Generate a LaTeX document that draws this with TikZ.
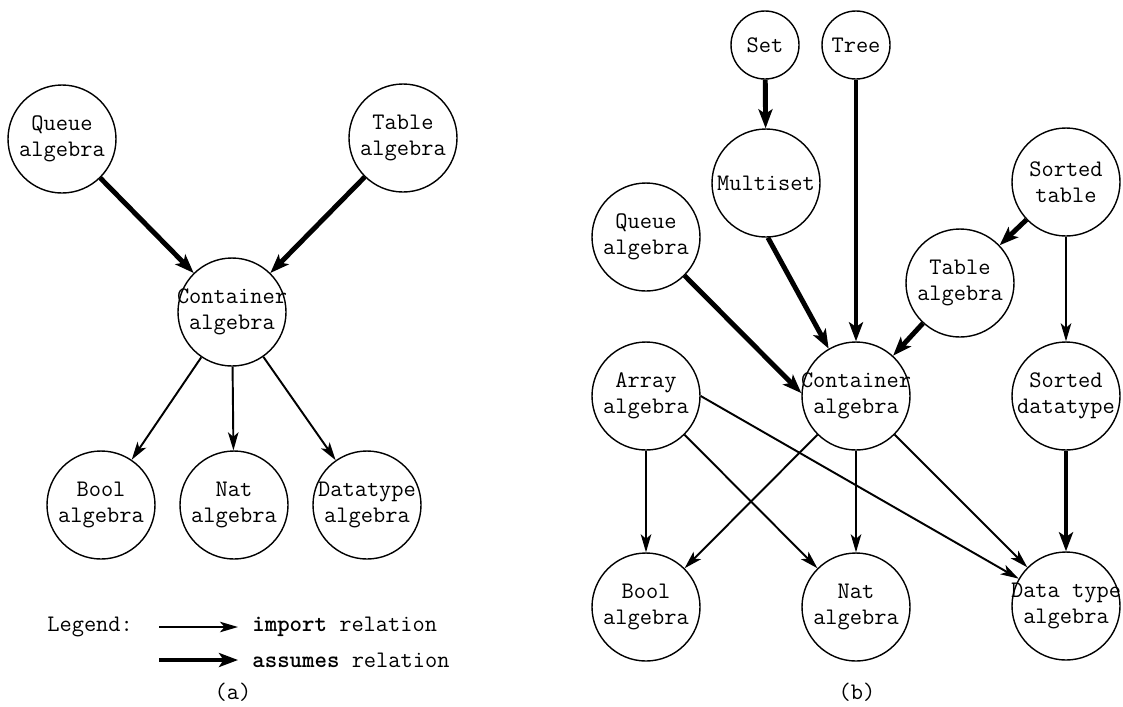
\documentclass[tikz,border=0pt]{standalone}
\usetikzlibrary{arrows.meta}

\begin{document}
\begin{tikzpicture}[x=0.2mm,y=-0.2mm,
        font=\ttfamily\fontsize{13.5}{15}\selectfont,
        module/.style={circle,draw,line width=0.8pt,minimum size=2.16cm,inner sep=-3mm,align=center},
        leaf/.style={circle,draw,line width=0.8pt,minimum size=1.36cm,inner sep=0pt},
        txt/.style={inner sep=0pt,anchor=west},
        imp/.style={line width=1.1pt,-{Stealth[length=3.6mm,width=2.1mm,inset=0.9mm]}},
        asm/.style={line width=2.8pt,-{Stealth[length=3.8mm,width=2.8mm,inset=0.9mm]}}]
    \useasboundingbox (0,0) rectangle (1123,706);

    % (a) container with its users and parts
    \node[module] (qa) at (62,139) {Queue\\algebra};
    \node[module] (ta) at (403,138) {Table\\algebra};
    \node[module] (ca) at (232,312) {Container\\algebra};
    \node[module] (ba) at (101,505) {Bool\\algebra};
    \node[module] (na) at (234,505) {Nat\\algebra};
    \node[module] (da) at (367,505) {Datatype\\algebra};

    \draw[asm] (qa) -- (ca);
    \draw[asm] (ta) -- (ca);
    \foreach \m in {ba,na,da}
        \draw[imp] (ca) -- (\m);

    % legend
    \node[txt] (leg) at (47,627) {Legend:};
    \coordinate (i0) at (159,627);
    \coordinate (i1) at (238,627);
    \coordinate (s0) at (159,660);
    \coordinate (s1) at (238,660);
    \draw[imp] (i0) -- (i1);
    \draw[asm] (s0) -- (s1);
    \node[txt] (limp) at (252,627) {\textbf{import} relation};
    \node[txt] (lasm) at (252,660) {\textbf{assumes} relation};
    \node[inner sep=0pt] (capa) at (233,692) {(a)};

    % (b) the full hierarchy
    \node[leaf] (set) at (765,45) {Set};
    \node[leaf] (tree) at (856,45) {Tree};
    \node[module] (mset) at (766,183) {Multiset};
    \node[module] (qb) at (646,237) {Queue\\algebra};
    \node[module] (st) at (1066,182) {Sorted\\table};
    \node[module] (tb) at (960,283) {Table\\algebra};
    \node[module] (cb) at (856,396) {Container\\algebra};
    \node[module] (arr) at (646,396) {Array\\algebra};
    \node[module] (sd) at (1066,396) {Sorted\\datatype};
    \node[module] (bb) at (646,607) {Bool\\algebra};
    \node[module] (nb) at (856,607) {Nat\\algebra};
    \node[module] (dtb) at (1066,606) {Data type\\algebra};

    \draw[asm] (set) -- (mset);
    \draw[asm] (tree) -- (cb);
    \draw[asm] (mset.-88) -- (cb.120);
    \draw[asm] (qb.-45) -- (cb.177);
    \draw[asm] (st) -- (tb);
    \draw[asm] (tb) -- (cb);
    \draw[imp] (st) -- (sd);
    \draw[asm] (sd) -- (dtb);
    \draw[imp] (arr) -- (bb);
    \draw[imp] (arr) -- (nb);
    \draw[imp] (arr.east) -- (dtb.150);
    \foreach \m in {bb,nb,dtb}
        \draw[imp] (cb) -- (\m);
    \node[inner sep=0pt] (capb) at (857,692) {(b)};
\end{tikzpicture}
\end{document}
